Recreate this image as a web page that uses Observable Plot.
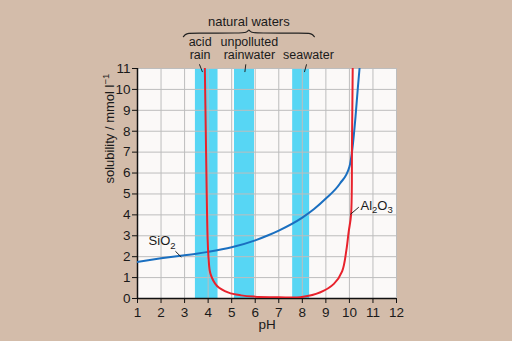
<!DOCTYPE html>
<html><head><meta charset="utf-8">
<script src="https://cdn.jsdelivr.net/npm/d3@7"></script>
<script src="https://cdn.jsdelivr.net/npm/@observablehq/plot@0.6"></script>
<style>
html,body{margin:0;padding:0;background:#d3bcaa;}
#chart{width:512px;height:341px;overflow:hidden;}
</style></head><body><div id="chart"></div>
<script>
// SiO2 solubility curve (pH, mmol/l)
const sio2PH  = [1, 2, 3, 3.5, 4, 5, 6, 6.5, 7, 8, 8.5, 9, 9.6, 10, 10.12, 10.26, 10.36, 10.43];
const sio2Sol = [1.75, 1.92, 2.07, 2.14, 2.23, 2.45, 2.78, 3.0, 3.25, 3.87, 4.28, 4.78, 5.5, 6.3, 7.1, 8.7, 10.1, 11];
// Al2O3 solubility curve (pH, mmol/l)
const al2o3PH  = [3.86, 3.9, 3.94, 3.98, 4.02, 4.1, 4.38, 4.87, 5.4, 5.94, 7.0, 7.92, 8.77, 9.34, 9.69, 9.87, 9.97, 10.07, 10.11, 10.14];
const al2o3Sol = [11, 8, 5, 2.8, 1.9, 1.18, 0.6, 0.28, 0.15, 0.09, 0.06, 0.06, 0.3, 0.7, 1.3, 2.3, 3.2, 4.0, 7.5, 11];
// pH ranges of natural waters
const bandNames = ["acid rain", "unpolluted rainwater", "seawater"];
const bandLo = [3.46, 5.12, 7.59];
const bandHi = [4.42, 5.97, 8.31];
// tick labels
const xTicks = [1,2,3,4,5,6,7,8,9,10,11,12];
const yTicks = [0,1,2,3,4,5,6,7,8,9,10,11];

// annotations (data units)
const bandLabelText = ["acid\nrain", "unpolluted\nrainwater", "seawater"];
const bandLabelX = [3.66, 5.75, 8.26];
const bandLabelY = [11.95, 11.95, 11.65];
const leaderX1 = [3.63, 5.6, 8.18, 2.61, 10.4];
const leaderY1 = [11.2, 11.2, 11.2, 2.26, 4.37];
const leaderX2 = [3.76, 5.56, 8.09, 2.86, 10.04];
const leaderY2 = [10.83, 10.83, 10.83, 1.98, 4.02];
const braceX = [2.95, 3.02, 3.12, 3.3, 5.45, 5.62, 5.70, 5.73, 5.76, 5.84, 6.01, 8.16, 8.34, 8.44, 8.51];
const braceY = [12.52, 12.62, 12.68, 12.69, 12.69, 12.73, 12.8, 12.86, 12.8, 12.73, 12.69, 12.69, 12.68, 12.62, 12.52];
const curveLabels = ["SiO2", "Al2O3"];
const curveLabelX = [1.47, 10.47];
const curveLabelY = [2.74, 4.45];

const sio2 = sio2PH.map((x,i)=>({x, y:sio2Sol[i]}));
const al2o3 = al2o3PH.map((x,i)=>({x, y:al2o3Sol[i]}));
const bands = bandNames.map((n,i)=>({n, lo:bandLo[i], hi:bandHi[i]}));
const bandLabels = bandLabelText.map((t,i)=>({t, x:bandLabelX[i], y:bandLabelY[i]}));
const leaders = leaderX1.map((x1,i)=>({x1, y1:leaderY1[i], x2:leaderX2[i], y2:leaderY2[i]}));
const brace = braceX.map((x,i)=>({x, y:braceY[i]}));
const cLabels = curveLabels.map((t,i)=>({t, x:curveLabelX[i], y:curveLabelY[i]}));

const FONT = "Liberation Sans, Arial, Helvetica, sans-serif";
const plot = Plot.plot({
  width: 512, height: 341,
  marginLeft: 137, marginRight: 116, marginTop: 68, marginBottom: 43,
  style: {background: "transparent", fontFamily: FONT, fontSize: "13px", color: "#1a1a1a", overflow: "visible"},
  x: {domain: [1, 12]},
  y: {domain: [0, 11]},
  marks: [
    Plot.frame({fill: "#fbf9f8", stroke: null}),
    Plot.rect(bands, {x1: "lo", x2: "hi", y1: 0, y2: 11, fill: "#57d6f4"}),
    Plot.gridX({ticks: xTicks, stroke: "#bdbdbd", strokeOpacity: 1}),
    Plot.gridY({ticks: yTicks, stroke: "#bdbdbd", strokeOpacity: 1}),
    Plot.axisX({ticks: xTicks, tickSize: 5, tickPadding: 4, label: null, fontSize: 13.5, stroke: "#111"}),
    Plot.axisY({ticks: yTicks, tickSize: 5, tickPadding: 2, label: null, fontSize: 13.5, stroke: "#111"}),
    Plot.ruleX([1], {stroke: "#111", strokeWidth: 1.5}),
    Plot.ruleY([0], {stroke: "#111", strokeWidth: 1.5}),
    Plot.line(sio2, {x: "x", y: "y", stroke: "#1a6fc0", strokeWidth: 2, curve: "monotone-x", clip: true}),
    Plot.line(al2o3, {x: "x", y: "y", stroke: "#e8222c", strokeWidth: 2, curve: "catmull-rom", clip: true}),
    Plot.link(leaders, {x1: "x1", y1: "y1", x2: "x2", y2: "y2", stroke: "#222", strokeWidth: 1}),
    Plot.line(brace, {x: "x", y: "y", stroke: "#222", strokeWidth: 1.2, curve: "basis"}),
    Plot.text(["natural waters"], {x: 5.73, y: 13.25, text: d => d, fontSize: 13}),
    Plot.text(bandLabels, {x: "x", y: "y", text: "t", fontSize: 12.5, lineHeight: 1.0}),
    Plot.text(cLabels, {x: "x", y: "y", text: "t", textAnchor: "start", fontSize: 13, className: "rich"}),
    Plot.text(["pH"], {frameAnchor: "bottom", dy: 30, text: d => d, fontSize: 13.5}),
    Plot.text(["solubility / mmol l-1"], {frameAnchor: "left", dx: -28, rotate: -90, text: d => d, fontSize: 13, className: "rich"})
  ]
});
document.getElementById("chart").appendChild(plot);

const NS = "http://www.w3.org/2000/svg";
const richParts = {
  "SiO2": [["SiO"], ["2", "sub"]],
  "Al2O3": [["Al"], ["2", "sub"], ["O"], ["3", "sub"]],
  "solubility / mmol l-1": [["solubility / mmol l"], ["\u22121", "sup"]]
};
d3.select(plot).selectAll(".rich text").each(function() {
  const parts = richParts[this.textContent];
  if (!parts) return;
  this.textContent = "";
  let shift = 0;
  for (const [s, k] of parts) {
    const ts = document.createElementNS(NS, "tspan");
    const target = k === "sub" ? 3.5 : k === "sup" ? -5 : 0;
    if (target !== shift) ts.setAttribute("dy", target - shift);
    shift = target;
    if (k) ts.setAttribute("font-size", "9.5");
    ts.textContent = s;
    this.appendChild(ts);
  }
});
</script>
</body></html>
